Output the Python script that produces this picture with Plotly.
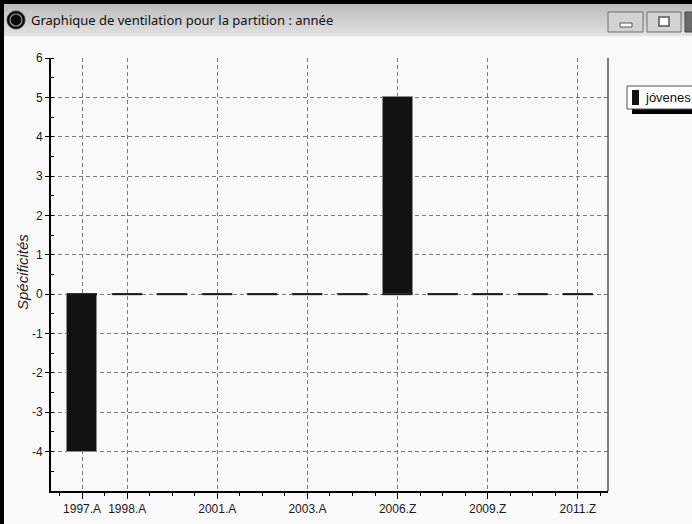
import plotly.graph_objects as go

# ---- data ----
categories = ["1997.A", "1998.A", "2000.A", "2001.A", "2002.A", "2003.A",
              "2005.Z", "2006.Z", "2008.Z", "2009.Z", "2010.Z", "2011.Z"]
values = [-4, 0, 0, 0, 0, 0, 0, 5, 0, 0, 0, 0]
shown_labels = ["1997.A", "1998.A", "2001.A", "2003.A", "2006.Z", "2009.Z", "2011.Z"]
y_ticks = [-4, -3, -2, -1, 0, 1, 2, 3, 4, 5, 6]
y_tick_text = ["-4", "-3", "-2", "-1", "0", "1", "2", "3", "4", "5", "6"]
series_name = "jóvenes"
y_title = "Spécificités"
window_title = "Graphique de ventilation pour la partition : année"

W, H = 692, 524
L, R, T, B = 51, 608, 58, 491  # plot area in pixels


def px(x):
    return (x - L) / (R - L)


def py(y):
    return (B - y) / (B - T)


xs = list(range(len(categories)))
bar_w = 0.667

fig = go.Figure()
fig.add_trace(go.Bar(
    x=xs, y=values, width=bar_w,
    marker=dict(color="#111111", line=dict(color="#8a8a8a", width=1)),
    showlegend=False, name=series_name,
))

# zero-height bars drawn as short segments on the zero line
seg_x, seg_y = [], []
for i, v in zip(xs, values):
    seg_x += [i - bar_w / 2, i + bar_w / 2, None]
    seg_y += [0, 0, None]
fig.add_trace(go.Scatter(x=seg_x, y=seg_y, mode="lines",
                         line=dict(color="#1a1a1a", width=2),
                         showlegend=False, hoverinfo="skip"))

tick_idx = [categories.index(c) for c in shown_labels]

shapes = []
annotations = []

# right border of plot
shapes.append(dict(type="line", xref="paper", yref="paper", x0=1, x1=1, y0=0, y1=1,
                   line=dict(color="#555555", width=1.5)))

# window chrome: title bar gradient
top_c = (0xbc, 0xbc, 0xbc)
bot_c = (0xe2, 0xe2, 0xe2)
n = 16
y0p, y1p = 4, 36
for k in range(n):
    t = k / (n - 1)
    c = tuple(int(top_c[j] + (bot_c[j] - top_c[j]) * t) for j in range(3))
    ya = y0p + (y1p - y0p) * k / n
    yb = y0p + (y1p - y0p) * (k + 1) / n
    shapes.append(dict(type="rect", xref="paper", yref="paper",
                       x0=px(0), x1=px(W + 5), y0=py(ya), y1=py(yb + 0.3),
                       fillcolor="rgb(%d,%d,%d)" % c, line=dict(width=0), layer="above"))
# black frame
shapes.append(dict(type="rect", xref="paper", yref="paper", x0=px(0), x1=px(W + 5),
                   y0=py(0), y1=py(4), fillcolor="#000000", line=dict(width=0)))
shapes.append(dict(type="rect", xref="paper", yref="paper", x0=px(0), x1=px(4),
                   y0=py(0), y1=py(H + 5), fillcolor="#000000", line=dict(width=0)))
# icon
shapes.append(dict(type="circle", xref="paper", yref="paper", x0=px(7), x1=px(25),
                   y0=py(11), y1=py(29), fillcolor="#0a0a0a", line=dict(color="#333", width=1)))
shapes.append(dict(type="circle", xref="paper", yref="paper", x0=px(10), x1=px(22),
                   y0=py(14), y1=py(26), fillcolor="rgba(0,0,0,0)", line=dict(color="#9a9a9a", width=1.2)))
annotations.append(dict(text=window_title, xref="paper", yref="paper", x=px(29), y=py(20),
                        xanchor="left", yanchor="middle", showarrow=False,
                        font=dict(family="Noto Sans, Open Sans, sans-serif", size=13, color="#111111")))
# window buttons
for (a, b) in [(608, 643), (647, 681)]:
    shapes.append(dict(type="rect", xref="paper", yref="paper", x0=px(a), x1=px(b),
                       y0=py(12), y1=py(32), fillcolor="#d2d2d2",
                       line=dict(color="#707070", width=1)))
shapes.append(dict(type="rect", xref="paper", yref="paper", x0=px(620), x1=px(632),
                   y0=py(23), y1=py(27), fillcolor="#ffffff", line=dict(color="#555", width=1)))
shapes.append(dict(type="rect", xref="paper", yref="paper", x0=px(659), x1=px(669),
                   y0=py(17), y1=py(26), fillcolor="#ffffff", line=dict(color="#555", width=1.5)))
shapes.append(dict(type="rect", xref="paper", yref="paper", x0=px(685), x1=px(W + 10),
                   y0=py(12), y1=py(32), fillcolor="#6a6a6a", line=dict(color="#444", width=1)))

# manual legend
shapes.append(dict(type="rect", xref="paper", yref="paper", x0=px(632), x1=px(W + 10),
                   y0=py(106), y1=py(114), fillcolor="#000000", line=dict(width=0)))
shapes.append(dict(type="rect", xref="paper", yref="paper", x0=px(627), x1=px(W + 10),
                   y0=py(86), y1=py(109), fillcolor="#ffffff", line=dict(color="#555555", width=1)))
shapes.append(dict(type="rect", xref="paper", yref="paper", x0=px(632), x1=px(639),
                   y0=py(90), y1=py(105), fillcolor="#111111", line=dict(width=0)))
annotations.append(dict(text=series_name, xref="paper", yref="paper", x=px(643), y=py(97.5),
                        xanchor="left", yanchor="middle", showarrow=False,
                        font=dict(family="Liberation Sans, Arial, sans-serif", size=13, color="#111111")))

# y axis title
annotations.append(dict(text=y_title, xref="paper", yref="paper", x=px(22), y=py(272),
                        xanchor="center", yanchor="middle", showarrow=False, textangle=-90,
                        font=dict(family="Liberation Sans, Arial, sans-serif", size=15,
                                  color="#222222", style="italic")))

tickfont = dict(family="Liberation Sans, Arial, sans-serif", size=12, color="#1a1a1a")

fig.update_layout(
    width=W, height=H,
    margin=dict(l=L, r=W - R, t=T, b=H - B, pad=0, autoexpand=False),
    paper_bgcolor="#f9f9f9", plot_bgcolor="#f9f9f9",
    showlegend=False,
    shapes=shapes, annotations=annotations,
    bargap=0,
    xaxis=dict(
        range=[-0.69, 11.67], tickmode="array", tickvals=tick_idx, ticktext=shown_labels,
        showgrid=True, gridcolor="#7a7a7a", griddash="4px,3px", gridwidth=1,
        showline=True, linecolor="#000000", linewidth=2,
        ticks="outside", ticklen=6, tickcolor="#000000", tickwidth=1,
        tickfont=tickfont, zeroline=False,
        minor=dict(tick0=0, dtick=0.5, ticks="outside", ticklen=3, tickcolor="#000000", showgrid=False),
    ),
    yaxis=dict(
        range=[-5, 6], tickmode="array", tickvals=y_ticks, ticktext=y_tick_text,
        showgrid=True, gridcolor="#7a7a7a", griddash="4px,3px", gridwidth=1,
        showline=True, linecolor="#000000", linewidth=2,
        ticks="outside", ticklen=4, tickcolor="#000000", tickwidth=1,
        tickfont=tickfont, zeroline=False,
        minor=dict(tick0=0, dtick=0.5, ticks="inside", ticklen=3, tickcolor="#000000", showgrid=False),
    ),
)

fig.write_html("out.html",
               config=dict(displayModeBar=False),
               post_script="document.body.style.margin='0';document.body.style.overflow='hidden';")
